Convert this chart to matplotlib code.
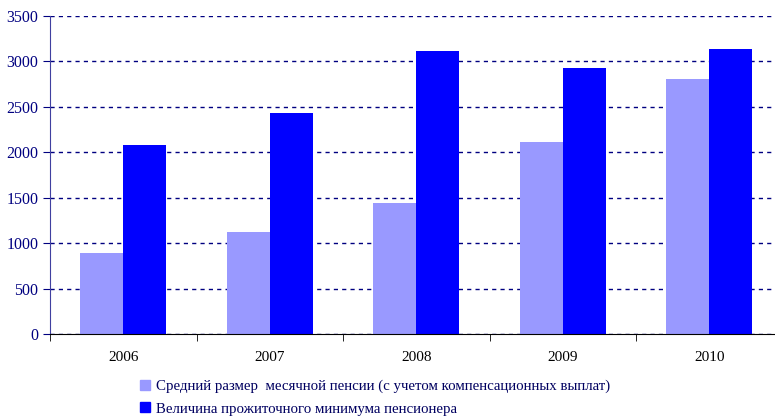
import numpy as np
import matplotlib.pyplot as plt
from matplotlib.patches import Patch

# Data
years = ['2006', '2007', '2008', '2009', '2010']
pension = [890, 1120, 1440, 2110, 2805]
subsistence = [2080, 2430, 3115, 2930, 3135]
labels = ['Средний размер  месячной пенсии (с учетом компенсационных выплат)',
          'Величина прожиточного минимума пенсионера']

plt.rcParams['font.family'] = ['Liberation Serif', 'DejaVu Serif']

fig = plt.figure(figsize=(7.75, 4.17), dpi=100)
ax = fig.add_axes([50 / 775, 1 - 334 / 417, 732.5 / 775, 318 / 417])

x = np.arange(len(years))
w = 0.293
ax.bar(x - w / 2, pension, w, color='#9999ff', zorder=2)
ax.bar(x + w / 2, subsistence, w, color='#0000ff', zorder=2)

ax.set_xlim(-0.5, len(years) - 0.5)
ax.set_ylim(0, 3500)
ax.set_yticks(range(0, 3501, 500))
ax.yaxis.grid(True, color='#000080', linestyle=(0, (3, 3)), linewidth=1, zorder=1)

ax.set_xticks(x)
ax.set_xticklabels(years, fontsize=11)
ax.set_xticks(np.arange(-0.5, len(years)), minor=True)
ax.tick_params(axis='x', which='major', length=0, pad=12)
ax.tick_params(axis='x', which='minor', length=5, color='black')
ax.tick_params(axis='y', length=5, color='#000080', labelcolor='#000080', labelsize=11.5)

for s in ['top', 'right']:
    ax.spines[s].set_visible(False)
ax.spines['left'].set_color('#4040a0')
ax.spines['bottom'].set_color('black')

handles = [Patch(color='#9999ff'), Patch(color='#0000ff')]
leg = fig.legend(handles, labels, loc='upper left', bbox_to_anchor=(134 / 775, 1 - 374 / 417),
                 frameon=False, fontsize=10.7, handlelength=0.65, handleheight=0.65,
                 handletextpad=0.45, labelspacing=0.6, borderaxespad=0)
for t in leg.get_texts():
    t.set_color('#000060')

fig.savefig('out.png', dpi=100)
